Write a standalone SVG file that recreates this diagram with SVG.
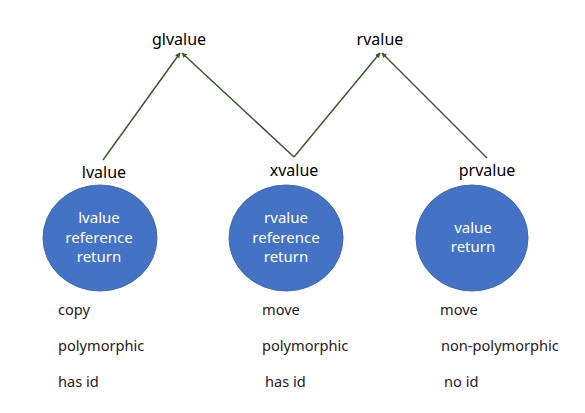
<svg xmlns="http://www.w3.org/2000/svg" width="585" height="413" viewBox="0 0 585 413">
<style>
.lbl{font-family:"Noto Sans","Open Sans",sans-serif;font-size:16px;fill:#000;text-anchor:middle}
.in{font-family:"Noto Sans","Open Sans",sans-serif;font-size:15px;fill:#fff;text-anchor:middle}
.note{font-family:"Noto Sans","Open Sans",sans-serif;font-size:14.6px;fill:#222}
.node{fill:#4472C4;stroke:#3f69b5;stroke-width:1}
.edge{stroke:#3b5a2c;stroke-width:1.5;fill:none;marker-end:url(#ah)}
</style>
<defs>
<marker id="ah" viewBox="0 0 10 10" refX="9" refY="5" markerWidth="3.5" markerHeight="3.5" orient="auto" markerUnits="strokeWidth">
<path d="M0,0 L10,5 L0,10 z" fill="#3b5a2c"/>
</marker>
</defs>
<rect width="585" height="413" fill="#fff"/>
<g id="connectors">
<line class="edge" x1="103" y1="160" x2="180" y2="53"/>
<line class="edge" x1="294" y1="157" x2="182" y2="53"/>
<line class="edge" x1="294" y1="157" x2="380" y2="53"/>
<line class="edge" x1="487" y1="158" x2="382" y2="53"/>
</g>
<g id="glvalue"><text class="lbl" x="179" y="45">glvalue</text></g>
<g id="rvalue"><text class="lbl" x="380" y="45">rvalue</text></g>
<g id="lvalue">
<text class="lbl" x="104" y="178">lvalue</text>
<ellipse class="node" cx="100" cy="238" rx="57" ry="53"/>
<text class="in" x="99" y="223">lvalue</text>
<text class="in" x="99" y="243">reference</text>
<text class="in" x="99" y="262">return</text>
</g>
<g id="xvalue">
<text class="lbl" x="294" y="176">xvalue</text>
<ellipse class="node" cx="286" cy="238" rx="57" ry="53"/>
<text class="in" x="286" y="223">rvalue</text>
<text class="in" x="286" y="243">reference</text>
<text class="in" x="286" y="262">return</text>
</g>
<g id="prvalue">
<text class="lbl" x="487" y="176">prvalue</text>
<ellipse class="node" cx="472" cy="238" rx="56" ry="53"/>
<text class="in" x="473" y="233">value</text>
<text class="in" x="473" y="252">return</text>
</g>
<g id="notes">
<text class="note" x="58" y="315">copy</text>
<text class="note" x="58" y="351">polymorphic</text>
<text class="note" x="58" y="387">has id</text>
<text class="note" x="262" y="315">move</text>
<text class="note" x="262" y="351">polymorphic</text>
<text class="note" x="265" y="387">has id</text>
<text class="note" x="440" y="315">move</text>
<text class="note" x="441" y="351">non-polymorphic</text>
<text class="note" x="444" y="387">no id</text>
</g>
</svg>
